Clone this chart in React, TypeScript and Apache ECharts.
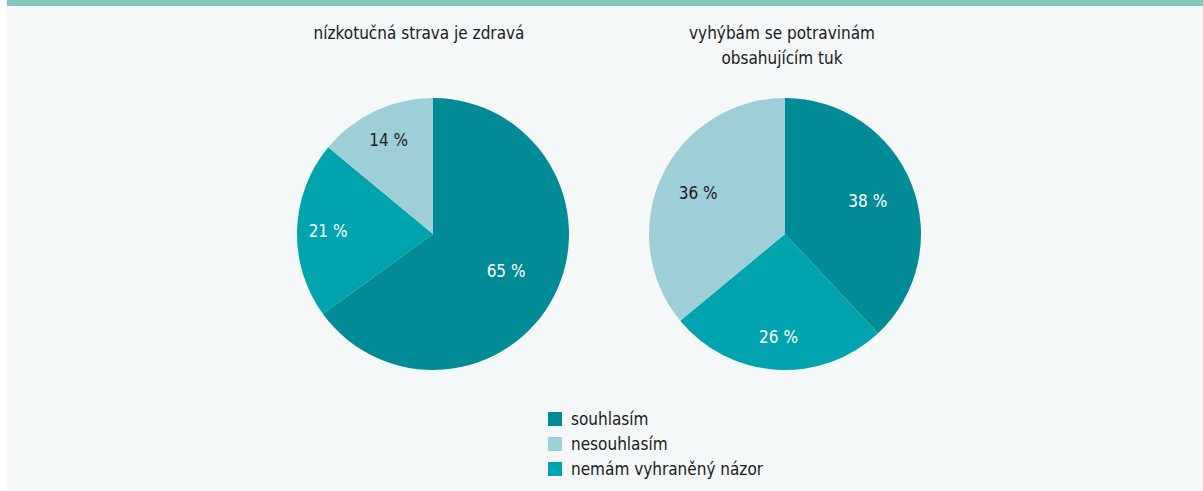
import React, { useEffect, useRef } from "react";
import * as echarts from "echarts";

const categories = ["souhlasím", "nemám vyhraněný názor", "nesouhlasím"];
const legendOrder = ["souhlasím", "nesouhlasím", "nemám vyhraněný názor"];
const titles = ["nízkotučná strava je zdravá", "vyhýbám se potravinám\nobsahujícím tuk"];
const valuesLeft = [65, 21, 14];
const valuesRight = [38, 26, 36];

const colors = ["#008b96", "#00a3ae", "#9ecfd6"];
const labelColors = ["#ffffff", "#ffffff", "#1a1a1a"];
const centers = [[433, 234], [785, 234]];
const radius = 136;
const labelDist = [[82, 105, 104], [89, 103, 96]];
const FONT = "'Liberation Sans Narrow', 'DejaVu Sans Condensed', sans-serif";

export default function App() {
  const ref = useRef<HTMLDivElement>(null);
  useEffect(() => {
    if (!ref.current) return;
    const chart = echarts.init(ref.current, null, { renderer: "svg" });
    const allValues = [valuesLeft, valuesRight];
    const series = allValues.map((vals, s) => ({
      type: "pie",
      center: centers[s],
      radius: radius,
      startAngle: 90,
      clockwise: true,
      avoidLabelOverlap: false,
      silent: true,
      itemStyle: { borderWidth: 0 },
      label: {
        show: true,
        position: "inside",
        formatter: "{c} %",
        fontFamily: FONT,
        fontSize: 17,
      },
      labelLine: { show: false },
      labelLayout: (p: any) => {
        const v = allValues[p.seriesIndex];
        const total = v.reduce((a, b) => a + b, 0);
        let cum = 0;
        for (let k = 0; k < p.dataIndex; k++) cum += v[k];
        const mid = ((cum + v[p.dataIndex] / 2) / total) * Math.PI * 2;
        const d = labelDist[p.seriesIndex][p.dataIndex];
        const c = centers[p.seriesIndex];
        return {
          x: c[0] + d * Math.sin(mid),
          y: c[1] - d * Math.cos(mid),
          align: "center",
          verticalAlign: "middle",
        };
      },
      data: vals.map((v, i) => ({
        name: categories[i],
        value: v,
        itemStyle: { color: colors[i] },
        label: { color: labelColors[i] },
      })),
    }));
    const titleStyle = { fontFamily: FONT, fontSize: 17, fontWeight: "normal", color: "#1a1a1a", lineHeight: 25 };
    chart.setOption({
      animation: false,
      backgroundColor: "transparent",
      title: [
        { text: titles[0], left: 419, top: 20, textAlign: "center", padding: 0, textStyle: titleStyle },
        { text: titles[1], left: 782, top: 20, textAlign: "center", padding: 0, textStyle: titleStyle },
      ],
      legend: {
        data: legendOrder,
        orient: "vertical",
        left: 548,
        top: 408,
        height: 80,
        padding: 0,
        itemWidth: 14,
        itemHeight: 14,
        itemGap: 3,
        icon: "rect",
        selectedMode: false,
        textStyle: { fontFamily: FONT, fontSize: 17, color: "#1a1a1a", lineHeight: 22, padding: [0, 0, 0, 4] },
      },
      series,
    });
    return () => chart.dispose();
  }, []);
  return (
    <div style={{ position: "fixed", left: 0, top: 0, width: 1203, height: 491, background: "#ffffff" }}>
      <div
        style={{
          position: "absolute",
          left: 7,
          top: 0,
          right: 0,
          bottom: 0,
          background: "#f4f8f8",
          borderTop: "6px solid #84c9bd",
        }}
      />
      <div ref={ref} style={{ position: "absolute", left: 0, top: 0, width: 1203, height: 491 }} />
    </div>
  );
}
